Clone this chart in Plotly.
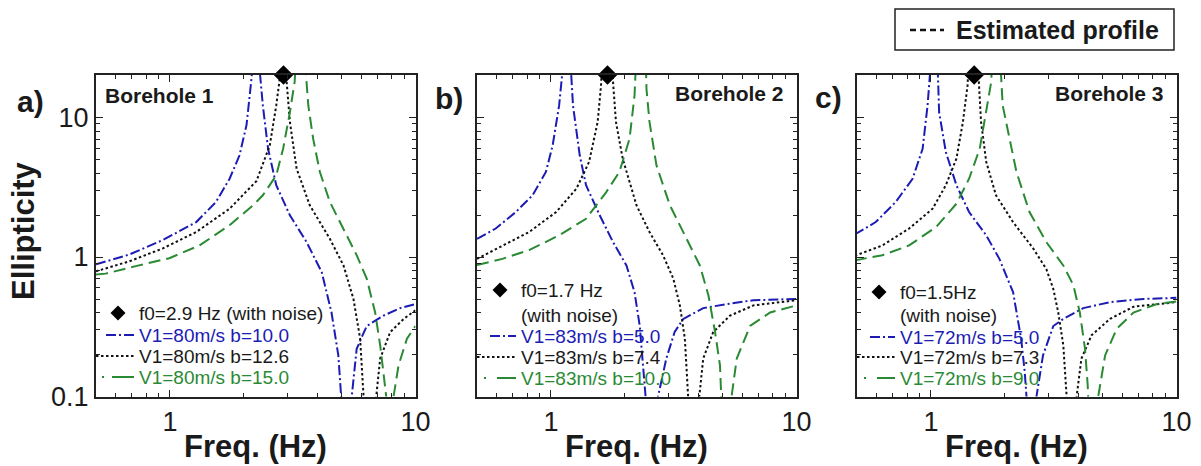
import plotly.graph_objects as go
import math

W, H = 1201, 466

# ---------------- data ----------------
# Panel a) Borehole 1
a_f_b10 = [0.5, 0.682, 0.933, 1.28, 1.54, 1.75, 1.92, 2.05, 2.12, 2.16, 2.18,
           2.31, 2.33, 2.39, 2.51, 2.71, 3.08, 3.60, 4.15, 4.55, 4.85, 5.0, 5.05,
           5.45, 5.5, 5.76, 6.33, 7.41, 8.67, 10.0]
a_e_b10 = [0.886, 1.04, 1.32, 1.78, 2.48, 3.64, 5.36, 8.8, 15.2, 21, 30,
           30, 20, 12.2, 5.97, 3.27, 1.99, 1.28, 0.78, 0.40, 0.197, 0.1, 0.07,
           0.07, 0.1, 0.22, 0.32, 0.38, 0.43, 0.46]
a_f_b126 = [0.5, 0.682, 0.933, 1.28, 1.75, 2.18, 2.25, 2.55, 2.71, 2.80, 2.85,
            2.95, 2.98, 3.08, 3.28, 3.71, 4.48, 5.09, 5.59, 5.95, 6.18, 6.22,
            6.88, 6.92, 7.18, 7.89, 8.95, 10.0]
a_e_b126 = [0.79, 0.93, 1.15, 1.51, 2.22, 3.27, 3.5, 6.3, 12.2, 19, 30,
            30, 19, 9.3, 4.3, 2.35, 1.35, 0.87, 0.50, 0.26, 0.1, 0.07,
            0.07, 0.1, 0.187, 0.29, 0.36, 0.415]
a_f_b15 = [0.5, 0.547, 0.726, 0.994, 1.32, 1.75, 2.18, 2.39, 2.71, 2.89, 3.08, 3.22, 3.28,
           3.55, 3.60, 3.66, 3.83, 4.08, 4.48, 5.09, 5.76, 6.33, 6.85, 7.18, 7.41, 7.6, 7.65,
           8.1, 8.14, 8.53, 9.23, 10.0]
a_e_b15 = [0.75, 0.76, 0.86, 0.98, 1.21, 1.69, 2.35, 2.77, 3.85, 5.97, 10.9, 18, 30,
           30, 18, 12.2, 7.05, 4.07, 2.48, 1.6, 1.03, 0.70, 0.40, 0.233, 0.15, 0.1, 0.07,
           0.07, 0.1, 0.167, 0.26, 0.32]

# Panel b) Borehole 2
b_f_b50 = [0.5, 0.596, 0.719, 0.842, 0.954, 1.016, 1.08, 1.11, 1.12,
           1.20, 1.21, 1.23, 1.31, 1.39, 1.58, 1.79, 2.03, 2.19, 2.30, 2.37, 2.45, 2.47,
           2.71, 2.73, 2.95, 3.19, 3.46, 4.17, 5.2, 6.68, 10.0]
b_e_b50 = [1.35, 1.6, 2.1, 2.77, 4.07, 6.3, 12.2, 20, 30,
           30, 20, 12.2, 5.36, 3.27, 1.99, 1.28, 0.87, 0.56, 0.32, 0.177, 0.1, 0.07,
           0.07, 0.1, 0.187, 0.29, 0.36, 0.43, 0.46, 0.49, 0.50]
b_f_b74 = [0.5, 0.634, 0.815, 1.05, 1.27, 1.43, 1.55, 1.60, 1.62,
           1.77, 1.79, 1.84, 1.96, 2.23, 2.52, 2.86, 3.15, 3.35, 3.51, 3.62, 3.64,
           4.0, 4.02, 4.17, 4.58, 5.36, 6.68, 10.0]
b_e_b74 = [0.97, 1.21, 1.51, 2.1, 3.09, 4.8, 9.3, 17, 30,
           30, 18, 9.3, 5.07, 2.35, 1.51, 1.03, 0.70, 0.45, 0.26, 0.1, 0.07,
           0.07, 0.1, 0.187, 0.29, 0.38, 0.45, 0.49]
b_f_b100 = [0.5, 0.634, 0.815, 1.08, 1.39, 1.68, 1.90, 2.09, 2.19, 2.23,
            2.43, 2.45, 2.52, 2.69, 3.05, 3.57, 4.04, 4.38, 4.66, 4.88, 4.96, 4.98,
            5.42, 5.44, 5.71, 6.47, 7.81, 10.0]
b_e_b100 = [0.876, 0.97, 1.12, 1.43, 1.88, 2.92, 4.07, 7.05, 14.4, 30,
            30, 16, 9.3, 4.54, 2.35, 1.35, 0.87, 0.53, 0.29, 0.167, 0.1, 0.07,
            0.07, 0.1, 0.187, 0.32, 0.40, 0.45]

# Panel c) Borehole 3
c_f_b50 = [0.49, 0.596, 0.719, 0.842, 0.925, 0.969, 0.99, 1.0,
           1.06, 1.065, 1.08, 1.15, 1.27, 1.43, 1.68, 1.90, 2.16, 2.33, 2.41, 2.45, 2.47,
           2.67, 2.69, 2.86, 3.15, 3.46, 4.17, 5.36, 7.34, 10.0]
c_e_b50 = [1.45, 1.78, 2.48, 3.64, 5.97, 12.2, 20, 30,
           30, 20, 10.9, 5.66, 3.27, 2.1, 1.43, 0.97, 0.56, 0.26, 0.15, 0.1, 0.07,
           0.07, 0.1, 0.197, 0.32, 0.36, 0.43, 0.475, 0.50, 0.51]
c_f_b73 = [0.49, 0.634, 0.815, 1.016, 1.15, 1.27, 1.35, 1.41, 1.43,
           1.55, 1.57, 1.60, 1.68, 1.84, 2.16, 2.61, 2.95, 3.15, 3.30, 3.46, 3.57, 3.59,
           3.90, 3.92, 4.10, 4.51, 5.36, 6.68, 10.0]
c_e_b73 = [1.02, 1.21, 1.6, 2.22, 3.27, 5.07, 9.3, 17, 30,
           30, 17, 9.3, 4.8, 2.77, 1.78, 1.15, 0.82, 0.59, 0.40, 0.233, 0.1, 0.07,
           0.07, 0.1, 0.187, 0.275, 0.36, 0.44, 0.475]
c_f_b90 = [0.49, 0.634, 0.815, 1.05, 1.27, 1.43, 1.58, 1.68, 1.76, 1.78,
           1.92, 1.93, 1.96, 2.09, 2.23, 2.52, 2.95, 3.46, 3.80, 4.04, 4.24, 4.35, 4.38, 4.40,
           4.78, 4.8, 5.12, 5.71, 6.68, 8.32, 10.0]
c_e_b90 = [0.947, 1.03, 1.21, 1.64, 2.41, 3.64, 5.97, 10.9, 18, 30,
           30, 20, 12.2, 7.05, 4.07, 2.1, 1.28, 0.87, 0.63, 0.40, 0.22, 0.12, 0.1, 0.07,
           0.07, 0.1, 0.197, 0.306, 0.40, 0.46, 0.48]

f0_values = [2.9, 1.7, 1.5]
f0_labels = ["f0=2.9 Hz (with noise)", "f0=1.7 Hz<br>(with noise)", "f0=1.5Hz<br>(with noise)"]
borehole_labels = ["Borehole 1", "Borehole 2", "Borehole 3"]
panel_tags = ["a)", "b)", "c)"]
series_labels = [
    ["V1=80m/s b=10.0", "V1=80m/s b=12.6", "V1=80m/s b=15.0"],
    ["V1=83m/s b=5.0", "V1=83m/s b=7.4", "V1=83m/s b=10.0"],
    ["V1=72m/s b=5.0", "V1=72m/s b=7.3", "V1=72m/s b=9.0"],
]
y_ticks = [0.1, 1, 10]
y_ticktext = ["0.1", "1", "10"]
x_ticks = [1, 10]
x_ticktext = ["1", "10"]

panels = [
    [(a_f_b10, a_e_b10), (a_f_b126, a_e_b126), (a_f_b15, a_e_b15)],
    [(b_f_b50, b_e_b50), (b_f_b74, b_e_b74), (b_f_b100, b_e_b100)],
    [(c_f_b50, c_e_b50), (c_f_b73, c_e_b73), (c_f_b90, c_e_b90)],
]

# ---------------- styling ----------------
BLUE = "#1c1cb4"
BLACK = "#111111"
GREEN = "#2a8a34"
colors = [BLUE, BLACK, GREEN]
dashes = ["10px,3px,2px,3px", "2.5px,2.5px", "12px,6px"]
FONT = "Liberation Sans, Arial, sans-serif"

def px(x):
    return x / W

def py(y):
    return 1 - y / H

x_domains = [[px(96), px(415.5)], [px(477), px(796.5)], [px(857), px(1176.5)]]
y_domain = [py(396.5), py(75)]
Y_TOP_LOG = 1.3047
y_top = 10 ** Y_TOP_LOG

minor_x = [0.5, 0.6, 0.7, 0.8, 0.9, 2, 3, 4, 5, 6, 7, 8, 9]
minor_y = [0.2, 0.3, 0.4, 0.5, 0.6, 0.7, 0.8, 0.9, 2, 3, 4, 5, 6, 7, 8, 9, 20]

fig = go.Figure()
for i, curves in enumerate(panels):
    xa = "x" if i == 0 else f"x{i+1}"
    ya = "y" if i == 0 else f"y{i+1}"
    for j, (fx, ey) in enumerate(curves):
        fig.add_trace(go.Scatter(
            x=fx, y=ey, mode="lines", xaxis=xa, yaxis=ya,
            line=dict(color=colors[j], width=2, dash=dashes[j]),
            showlegend=False, hoverinfo="skip"))
    fig.add_trace(go.Scatter(
        x=[f0_values[i]], y=[y_top], mode="markers", xaxis=xa, yaxis=ya,
        marker=dict(symbol="diamond", size=15, color="black"),
        cliponaxis=False, showlegend=False))

axis_common = dict(
    type="log", showline=True, linecolor="#222", linewidth=2, mirror="ticks",
    ticks="inside", ticklen=7, tickwidth=1, tickcolor="#222", showgrid=False,
    zeroline=False, automargin=False,
    tickfont=dict(family=FONT, size=27, color="#1a1a1a"),
)
layout = dict(
    width=W, height=H, margin=dict(l=0, r=0, t=0, b=0, autoexpand=False),
    paper_bgcolor="white", plot_bgcolor="white", showlegend=False,
)
for i in range(3):
    xk = "xaxis" if i == 0 else f"xaxis{i+1}"
    yk = "yaxis" if i == 0 else f"yaxis{i+1}"
    ya = "y" if i == 0 else f"y{i+1}"
    xa = "x" if i == 0 else f"x{i+1}"
    layout[xk] = dict(axis_common, domain=x_domains[i], anchor=ya,
                      range=[math.log10(0.5), 1], tickvals=x_ticks, ticktext=x_ticktext,
                      minor=dict(tickvals=minor_x, ticks="inside", ticklen=4,
                                 tickcolor="#222", tickwidth=1, showgrid=False))
    layout[yk] = dict(axis_common, domain=y_domain, anchor=xa,
                      range=[-1, Y_TOP_LOG], tickvals=y_ticks, ticktext=y_ticktext,
                      showticklabels=(i == 0),
                      minor=dict(tickvals=minor_y, ticks="inside", ticklen=4,
                                 tickcolor="#222", tickwidth=1, showgrid=False))
fig.update_layout(**layout)

annotations = []
shapes = []

def text(x, y, s, size, color="#1a1a1a", bold=False, xanchor="left", angle=0):
    annotations.append(dict(
        x=px(x), y=py(y), xref="paper", yref="paper", text=(f"<b>{s}</b>" if bold else s),
        showarrow=False, xanchor=xanchor, yanchor="middle", textangle=angle,
        font=dict(family=FONT, size=size, color=color)))

def seg(x0, x1, y, color, dash, width=2):
    shapes.append(dict(type="line", xref="paper", yref="paper",
                       x0=px(x0), x1=px(x1), y0=py(y), y1=py(y),
                       line=dict(color=color, width=width, dash=dash)))

def diamond(cx, cy, r=7.5):
    pts = [(cx, cy - r), (cx + r, cy), (cx, cy + r), (cx - r, cy)]
    path = "M " + " L ".join(f"{px(a):.5f},{py(b):.5f}" for a, b in pts) + " Z"
    shapes.append(dict(type="path", xref="paper", yref="paper", path=path,
                       fillcolor="black", line=dict(color="black", width=0)))

# axis titles
for cx in [255.5, 636.5, 1016.5]:
    text(cx, 446, "Freq. (Hz)", 31, bold=True, xanchor="center")
text(23, 231, "Ellipticity", 31, bold=True, xanchor="center", angle=-90)

# panel tags and borehole names
text(30, 101, panel_tags[0], 30, bold=True, xanchor="center")
text(449, 98, panel_tags[1], 30, bold=True, xanchor="center")
text(828, 97, panel_tags[2], 30, bold=True, xanchor="center")
text(103, 96, borehole_labels[0], 21, bold=True)
text(786, 93, borehole_labels[1], 21, bold=True, xanchor="right")
text(1166, 93, borehole_labels[2], 21, bold=True, xanchor="right")

# in-panel legends
leg = [
    dict(dx=118, dy=313, tx=137, f0y=[313], vy=[335, 356, 377], left=96, bl=106, gd=103, gs=112),
    dict(dx=500, dy=290, tx=519, f0y=[290, 315], vy=[336, 357, 378], left=477, bl=490, gd=485, gs=497),
    dict(dx=879, dy=292, tx=898, f0y=[292, 315], vy=[337, 357, 378], left=857, bl=870, gd=865, gs=877),
]
for i, L in enumerate(leg):
    diamond(L["dx"], L["dy"])
    parts = f0_labels[i].split("<br>")
    for k, p in enumerate(parts):
        text(L["tx"], L["f0y"][k], p, 19)
    end = L["tx"] - 3
    seg(L["bl"], end, L["vy"][0], BLUE, "10px,3px,2px,3px")
    seg(L["left"], end, L["vy"][1], BLACK, "2.5px,2.5px")
    seg(L["gd"] - 1, L["gd"] + 1, L["vy"][2], GREEN, "solid")
    seg(L["gs"], end, L["vy"][2], GREEN, "solid")
    for j in range(3):
        text(L["tx"], L["vy"][j], series_labels[i][j], 19, color=colors[j] if j != 1 else "#1a1a1a")

# "Estimated profile" box
shapes.append(dict(type="rect", xref="paper", yref="paper",
                   x0=px(895), x1=px(1174), y0=py(50), y1=py(9),
                   line=dict(color="#222", width=1.5), fillcolor="white"))
seg(910, 944, 30, BLACK, "6px,4px", width=2.5)
text(954, 30, "Estimated profile", 25, bold=True)

fig.update_layout(annotations=annotations, shapes=shapes)
fig.write_html("out.html")
